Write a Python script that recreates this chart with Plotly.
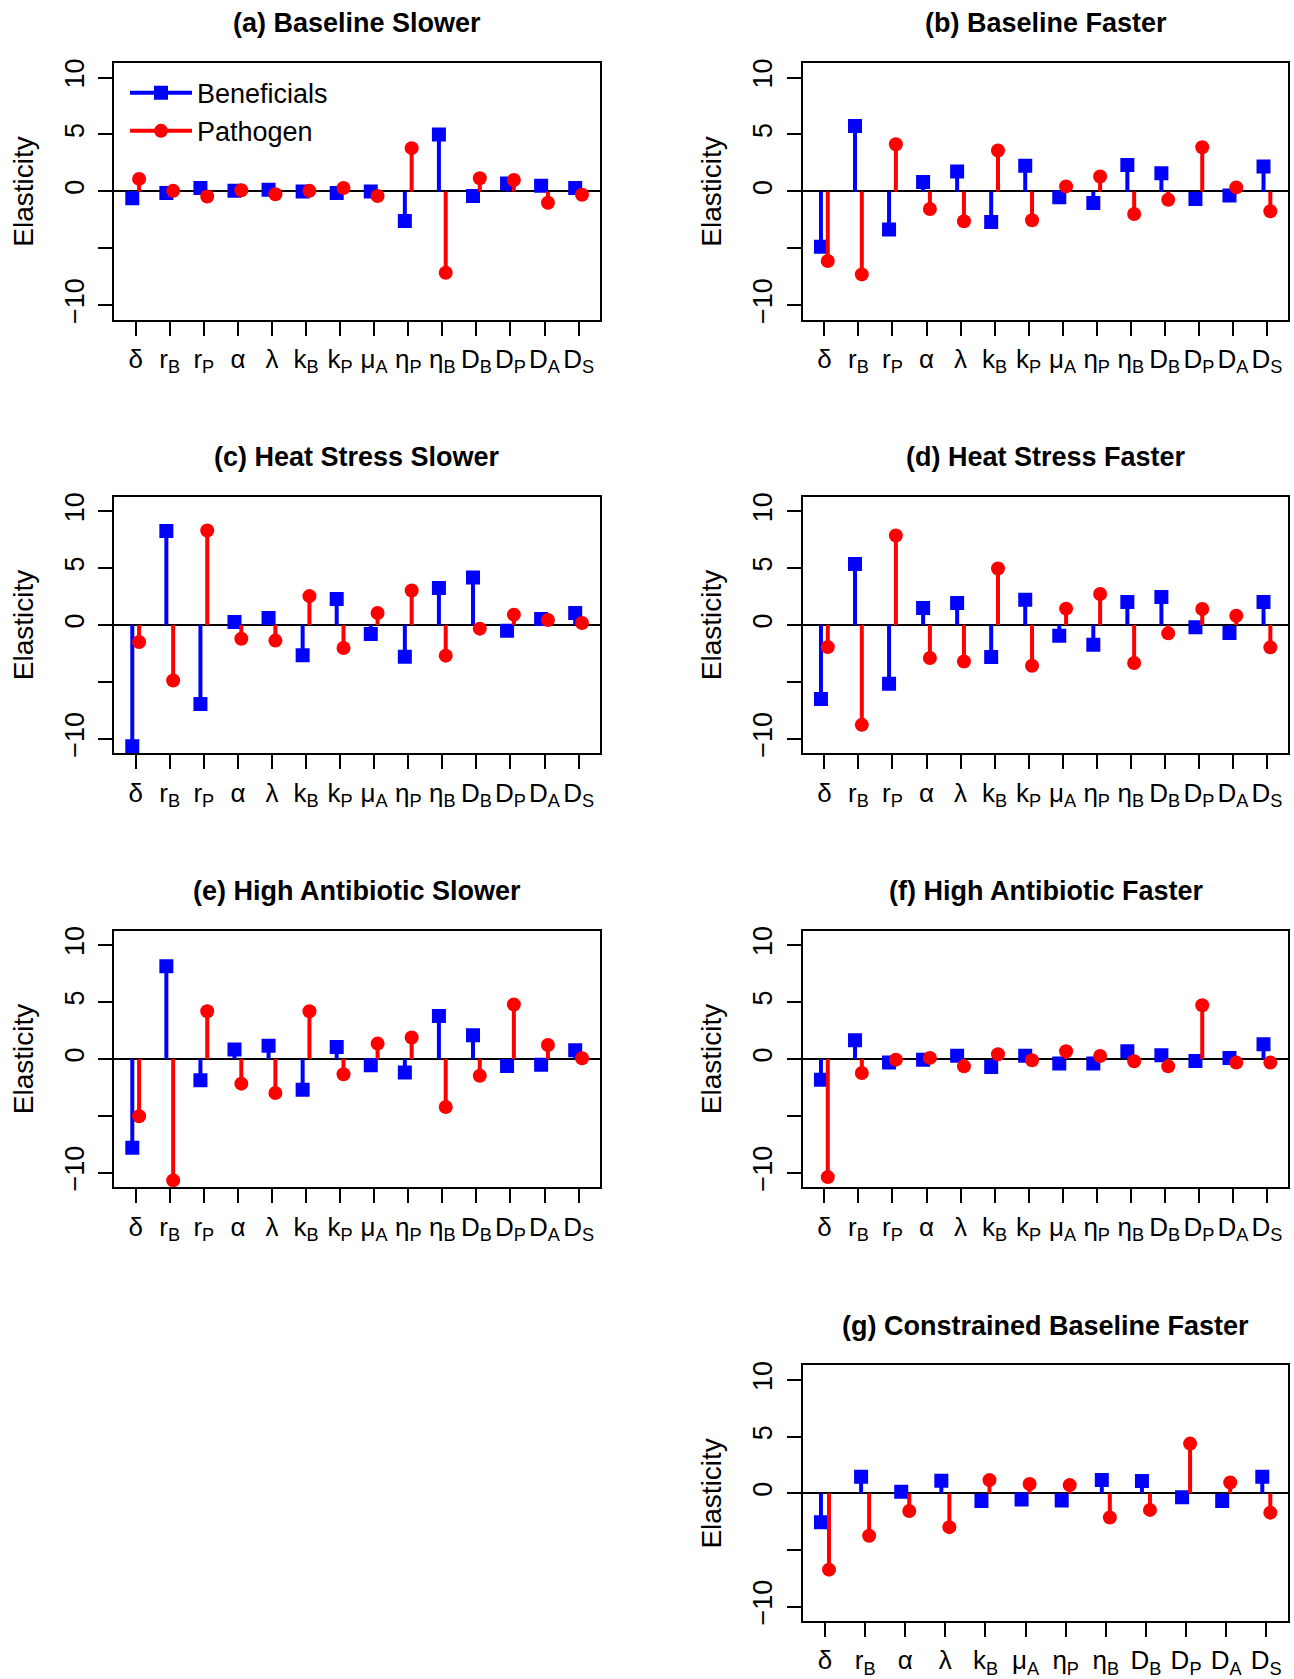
import plotly.graph_objects as go

W, H = 1294, 1679
FONT = "Liberation Sans, Arial, sans-serif"
BLUE = "#0000FF"
RED = "#FF0000"

# ---------------- data ----------------
params_full = ["δ", "r<sub>B</sub>", "r<sub>P</sub>", "α", "λ", "k<sub>B</sub>", "k<sub>P</sub>",
               "μ<sub>A</sub>", "η<sub>P</sub>", "η<sub>B</sub>", "D<sub>B</sub>", "D<sub>P</sub>",
               "D<sub>A</sub>", "D<sub>S</sub>"]
params_g = ["δ", "r<sub>B</sub>", "α", "λ", "k<sub>B</sub>", "μ<sub>A</sub>", "η<sub>P</sub>",
            "η<sub>B</sub>", "D<sub>B</sub>", "D<sub>P</sub>", "D<sub>A</sub>", "D<sub>S</sub>"]

a_benef = [-0.6, -0.15, 0.3, 0.05, 0.15, 0.0, -0.15, 0.0, -2.6, 5.0, -0.4, 0.7, 0.5, 0.3]
a_path = [1.1, 0.05, -0.45, 0.1, -0.25, 0.05, 0.3, -0.4, 3.8, -7.15, 1.15, 1.0, -1.0, -0.3]

b_benef = [-4.87, 5.74, -3.35, 0.82, 1.75, -2.68, 2.25, -0.52, -1.02, 2.33, 1.6, -0.67, -0.35, 2.19]
b_path = [-6.12, -7.29, 4.14, -1.55, -2.62, 3.59, -2.54, 0.44, 1.31, -1.98, -0.73, 3.88, 0.35, -1.75]

c_benef = [-10.64, 8.27, -6.93, 0.26, 0.61, -2.66, 2.28, -0.79, -2.78, 3.25, 4.18, -0.5, 0.53, 1.05]
c_path = [-1.49, -4.88, 8.3, -1.2, -1.37, 2.54, -2.02, 1.05, 3.04, -2.69, -0.32, 0.91, 0.44, 0.18]

d_benef = [-6.51, 5.37, -5.16, 1.5, 1.94, -2.82, 2.23, -0.94, -1.73, 2.02, 2.46, -0.2, -0.7, 2.02]
d_path = [-1.94, -8.77, 7.86, -2.9, -3.2, 4.96, -3.58, 1.44, 2.73, -3.34, -0.73, 1.41, 0.82, -1.96]

e_benef = [-7.8, 8.15, -1.88, 0.82, 1.17, -2.7, 1.06, -0.56, -1.2, 3.78, 2.08, -0.62, -0.5, 0.76]
e_path = [-5.04, -10.67, 4.19, -2.17, -2.99, 4.19, -1.35, 1.35, 1.88, -4.22, -1.47, 4.78, 1.23, 0.06]

f_benef = [-1.82, 1.64, -0.32, -0.06, 0.29, -0.7, 0.29, -0.41, -0.41, 0.67, 0.32, -0.18, 0.09, 1.29]
f_path = [-10.38, -1.23, -0.06, 0.09, -0.65, 0.41, -0.12, 0.67, 0.26, -0.2, -0.65, 4.72, -0.32, -0.32]

g_benef = [-2.54, 1.46, 0.15, 1.11, -0.67, -0.53, -0.64, 1.17, 1.08, -0.35, -0.67, 1.46]
g_path = [-6.73, -3.74, -1.55, -2.98, 1.17, 0.82, 0.73, -2.13, -1.46, 4.39, 0.96, -1.7]

titles = ["(a) Baseline Slower", "(b) Baseline Faster", "(c) Heat Stress Slower",
          "(d) Heat Stress Faster", "(e) High Antibiotic Slower", "(f) High Antibiotic Faster",
          "(g) Constrained Baseline Faster"]

y_ticks = [-10, -5, 0, 5, 10]
y_ticklabels = ["\u221210", "", "0", "5", "10"]

# ---------------- layout geometry (page pixels) ----------------
LEFT_COL = (114.3, 600)
RIGHT_COL = (803, 1288.3)
ROWS = [(59.3, 317.3), (495, 753), (931, 1189), (1368, 1625)]


def px_x(p):
    return p / W


def px_y(p):
    return 1 - p / H


panels = [
    (titles[0], params_full, a_benef, a_path, LEFT_COL, ROWS[0]),
    (titles[1], params_full, b_benef, b_path, RIGHT_COL, ROWS[0]),
    (titles[2], params_full, c_benef, c_path, LEFT_COL, ROWS[1]),
    (titles[3], params_full, d_benef, d_path, RIGHT_COL, ROWS[1]),
    (titles[4], params_full, e_benef, e_path, LEFT_COL, ROWS[2]),
    (titles[5], params_full, f_benef, f_path, RIGHT_COL, ROWS[2]),
    (titles[6], params_g, g_benef, g_path, RIGHT_COL, ROWS[3]),
]

OFF = 0.1
fig = go.Figure()
annotations = []
layout_axes = {}


def stems(vals, off):
    xs, ys = [], []
    for i, v in enumerate(vals):
        x = i + 1 + off
        xs += [x, x, None]
        ys += [0, v, None]
    return xs, ys


for k, (title, cats, ben, pat, (x0, x1), (yt, yb)) in enumerate(panels, start=1):
    xref = "x" if k == 1 else f"x{k}"
    yref = "y" if k == 1 else f"y{k}"
    n = len(cats)
    for vals, off, col, sym, size in [(ben, -OFF, BLUE, "square", 14), (pat, OFF, RED, "circle", 14)]:
        sx, sy = stems(vals, off)
        fig.add_trace(go.Scatter(x=sx, y=sy, mode="lines", line=dict(color=col, width=4),
                                 xaxis=xref, yaxis=yref, showlegend=False, hoverinfo="skip"))
        fig.add_trace(go.Scatter(x=[i + 1 + off for i in range(n)], y=vals, mode="markers",
                                 marker=dict(color=col, symbol=sym, size=size, line=dict(width=0)),
                                 xaxis=xref, yaxis=yref, showlegend=False))
    xmin, xmax = 1 - OFF, n + OFF
    pad = (xmax - xmin) * 0.04
    sfx = "" if k == 1 else str(k)
    layout_axes[f"xaxis{sfx}"] = dict(
        domain=[px_x(x0), px_x(x1)], anchor=yref, range=[xmin - pad, xmax + pad],
        tickmode="array", tickvals=list(range(1, n + 1)), ticktext=cats,
        showline=True, mirror=True, linecolor="black", linewidth=2,
        ticks="outside", ticklen=14, tickwidth=2, tickcolor="black",
        showgrid=False, zeroline=False, ticklabelstandoff=1,
        tickfont=dict(family=FONT, size=26, color="black"), tickangle=0,
    )
    layout_axes[f"yaxis{sfx}"] = dict(
        domain=[px_y(yb), px_y(yt)], anchor=xref, range=[-11.28, 11.28],
        tickmode="array", tickvals=y_ticks, ticktext=y_ticklabels,
        showline=True, mirror=True, linecolor="black", linewidth=2,
        ticks="outside", ticklen=14, tickwidth=2, tickcolor="black",
        showgrid=False, zeroline=True, zerolinecolor="black", zerolinewidth=2,
        ticklabelstandoff=4,
        tickangle=-90, tickfont=dict(family=FONT, size=27, color="black"),
        title=dict(text="Elasticity", font=dict(family=FONT, size=28, color="black"), standoff=18),
    )
    annotations.append(dict(
        text=f"<b>{title}</b>", xref="paper", yref="paper",
        x=px_x((x0 + x1) / 2), y=px_y(yt - 40), xanchor="center", yanchor="middle",
        showarrow=False, font=dict(family=FONT, size=27, color="black"),
    ))

# legend entries (panel a)
fig.add_trace(go.Scatter(x=[None], y=[None], mode="lines+markers", name="Beneficials",
                         line=dict(color=BLUE, width=4),
                         marker=dict(color=BLUE, symbol="square", size=14), xaxis="x", yaxis="y"))
fig.add_trace(go.Scatter(x=[None], y=[None], mode="lines+markers", name="Pathogen",
                         line=dict(color=RED, width=4),
                         marker=dict(color=RED, symbol="circle", size=14), xaxis="x", yaxis="y"))

fig.update_layout(
    width=W, height=H, margin=dict(l=0, r=0, t=0, b=0),
    paper_bgcolor="white", plot_bgcolor="white",
    font=dict(family=FONT, color="black"),
    annotations=annotations,
    legend=dict(x=px_x(125), y=px_y(65), xanchor="left", yanchor="top",
                bgcolor="rgba(0,0,0,0)", font=dict(family=FONT, size=27, color="black"),
                itemwidth=62, tracegroupgap=0),
    showlegend=True,
    **layout_axes,
)

fig.write_html("out.html", config={"displayModeBar": False},
               post_script="document.body.style.margin='0';document.body.style.overflow='hidden';")
